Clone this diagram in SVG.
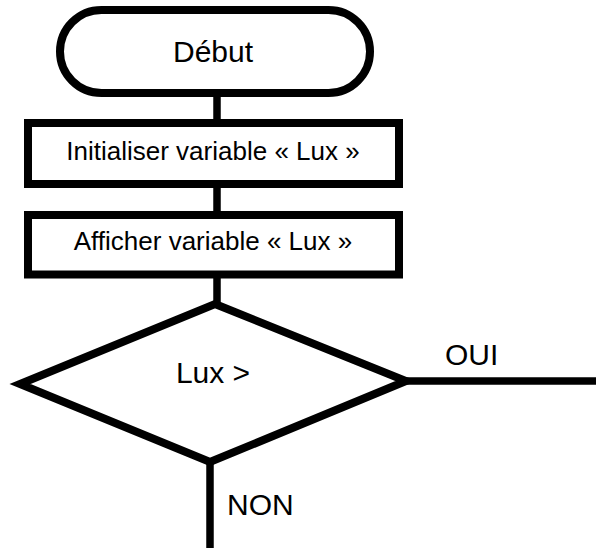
<svg xmlns="http://www.w3.org/2000/svg" width="596" height="548" viewBox="0 0 596 548">
<style>
.shape{fill:#fff;stroke:#000;stroke-width:8}
.conn{fill:none;stroke:#000;stroke-width:7.5}
text{font-family:"Liberation Sans",Arial,sans-serif;fill:#000}
.big{font-size:30px}
.mid{font-size:26px}
</style>
<rect width="596" height="548" fill="#fff"/>
<g id="connectors">
<line class="conn" x1="217" y1="93" x2="217" y2="123"/>
<line class="conn" x1="217" y1="184" x2="217" y2="215"/>
<line class="conn" x1="217" y1="274" x2="217" y2="304"/>
<line class="conn" x1="405" y1="381" x2="596" y2="381"/>
<line class="conn" x1="210" y1="462" x2="210" y2="548"/>
</g>
<g id="debut">
<rect class="shape" x="60" y="10" width="310" height="83" rx="41.5" ry="41.5"/>
<text class="big" x="213" y="62" text-anchor="middle">Début</text>
</g>
<g id="init">
<rect class="shape" x="28" y="123" width="371" height="61"/>
<text class="mid" x="213" y="160" text-anchor="middle">Initialiser variable « Lux »</text>
</g>
<g id="afficher">
<rect class="shape" x="28" y="215" width="371" height="59.5"/>
<text class="mid" x="213" y="250" text-anchor="middle">Afficher variable « Lux »</text>
</g>
<g id="decision">
<polygon class="shape" points="215,304 406,381 210,462 20,384"/>
<text class="big" x="213" y="383" text-anchor="middle">Lux &gt;</text>
</g>
<g id="labels">
<text class="big" x="445" y="365">OUI</text>
<text class="big" x="227" y="515">NON</text>
</g>
</svg>
